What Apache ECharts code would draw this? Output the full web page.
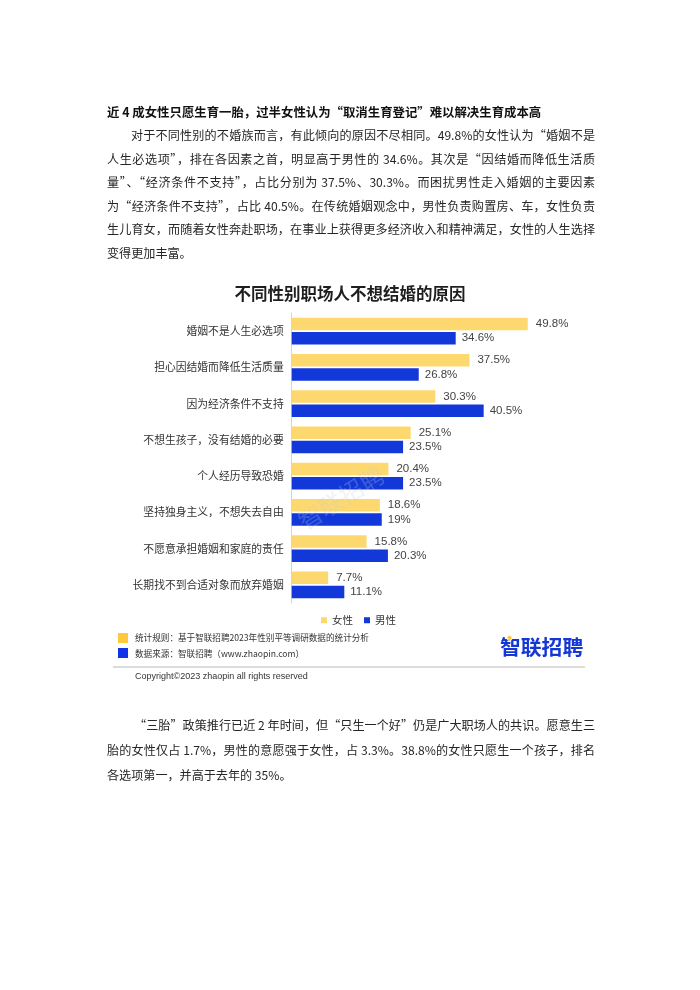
<!DOCTYPE html>
<html>
<head>
<meta charset="utf-8">
<script src="https://cdn.jsdelivr.net/npm/echarts@6/dist/echarts.min.js"></script>
<style>
  html, body { margin: 0; padding: 0; background: #fff; }
  #page { position: relative; width: 700px; height: 990px; overflow: hidden; }
  #chart { position: absolute; left: 0; top: 0; width: 700px; height: 990px; }
  .ln { position: absolute; white-space: nowrap; font-family: "Noto Sans CJK SC", sans-serif;
        font-size: 12.1px; line-height: 20px; height: 20px; color: #262626; z-index: 2; }
  .j { text-align: justify; text-align-last: justify; }
  .h { font-weight: bold; color: #111; font-size: 12.4px; }
</style>
</head>
<body>
<div id="page">
  <div id="chart"></div>
  <div id="doc"></div>
</div>
<script>
// ---------- data ----------
var categories = ['婚姻不是人生必选项', '担心因结婚而降低生活质量', '因为经济条件不支持', '不想生孩子，没有结婚的必要',
                  '个人经历导致恐婚', '坚持独身主义，不想失去自由', '不愿意承担婚姻和家庭的责任', '长期找不到合适对象而放弃婚姻'];
var femaleValues = [49.8, 37.5, 30.3, 25.1, 20.4, 18.6, 15.8, 7.7];
var maleValues = [34.6, 26.8, 40.5, 23.5, 23.5, 19, 20.3, 11.1];
var seriesNames = ['女性', '男性'];
var chartTitle = '不同性别职场人不想结婚的原因';
var noteLines = ['统计规则：基于智联招聘2023年性别平等调研数据的统计分析', '数据来源：智联招聘（www.zhaopin.com）'];
var logoText = '智联招聘';
var copyrightText = 'Copyright©2023 zhaopin all rights reserved';

var heading = '近 4 成女性只愿生育一胎，过半女性认为“取消生育登记”难以解决生育成本高';
var para1 = [
  '对于不同性别的不婚族而言，有此倾向的原因不尽相同。49.8%的女性认为“婚姻不是',
  '人生必选项”，排在各因素之首，明显高于男性的 34.6%。其次是“因结婚而降低生活质',
  '量”、“经济条件不支持”，占比分别为 37.5%、30.3%。而困扰男性走入婚姻的主要因素',
  '为“经济条件不支持”，占比 40.5%。在传统婚姻观念中，男性负责购置房、车，女性负责',
  '生儿育女，而随着女性奔赴职场，在事业上获得更多经济收入和精神满足，女性的人生选择',
  '变得更加丰富。'
];
var para2 = [
  '“三胎”政策推行已近 2 年时间，但“只生一个好”仍是广大职场人的共识。愿意生三',
  '胎的女性仅占 1.7%，男性的意愿强于女性，占 3.3%。38.8%的女性只愿生一个孩子，排名',
  '各选项第一，并高于去年的 35%。'
];

// ---------- document text ----------
var doc = document.getElementById('doc');
function addLine(text, left, centerY, width, cls) {
  var d = document.createElement('div');
  d.className = 'ln ' + (cls || '');
  d.textContent = text;
  d.style.left = left + 'px';
  d.style.top = (centerY - 10) + 'px';
  if (width) d.style.width = width + 'px';
  doc.appendChild(d);
}
addLine(heading, 107, 112, null, 'h');
para1.forEach(function (t, i) {
  var last = i === para1.length - 1;
  var first = i === 0;
  addLine(t, first ? 131 : 107, 135 + i * 23.5, last ? null : (first ? 464 : 488), last ? '' : 'j');
});
para2.forEach(function (t, i) {
  var last = i === para2.length - 1;
  var first = i === 0;
  addLine(t, first ? 134 : 107, 725 + i * 25, last ? null : (first ? 461 : 488), last ? '' : 'j');
});

// ---------- chart ----------
var chart = echarts.init(document.getElementById('chart'), null, { renderer: 'canvas' });
var cjk = '"Noto Sans CJK SC", sans-serif';
var option = {
  backgroundColor: 'transparent',
  animation: false,
  title: {
    text: chartTitle, left: 'center', top: 285, padding: 0,
    textStyle: { fontSize: 16.5, fontWeight: 'bold', color: '#1e1e1e', fontFamily: cjk }
  },
  legend: {
    data: seriesNames, left: 316, top: 610, icon: 'rect', itemWidth: 6, itemHeight: 6, itemGap: 11,
    textStyle: { fontSize: 10.5, color: '#333', fontFamily: cjk }
  },
  grid: { left: 291.7, top: 313, width: 284.4, height: 290, containLabel: false },
  xAxis: { type: 'value', min: 0, max: 60, show: false },
  yAxis: {
    type: 'category', data: categories, inverse: true,
    axisLine: { show: true, lineStyle: { color: '#d5d5d5', width: 1 } },
    axisTick: { show: false },
    axisLabel: { margin: 8, fontSize: 10.8, color: '#333', fontFamily: cjk }
  },
  series: [
    {
      name: seriesNames[0], type: 'bar', data: femaleValues, barWidth: 12.6, barGap: '12%',
      itemStyle: { color: '#FDD86E' },
      label: { show: true, position: 'right', distance: 8, formatter: '{c}%', fontSize: 11.5,
               color: '#444', fontFamily: '"Liberation Sans", Arial, sans-serif' }
    },
    {
      name: seriesNames[1], type: 'bar', data: maleValues, barWidth: 12.6, barGap: '12%',
      itemStyle: { color: '#1238DA' },
      label: { show: true, position: 'right', distance: 6, formatter: '{c}%', fontSize: 11.5,
               color: '#444', fontFamily: '"Liberation Sans", Arial, sans-serif' }
    }
  ],
  graphic: [
    { type: 'text', left: 294, top: 462, rotation: 0.56, silent: true, z: 100,
      style: { text: '智联招聘', fontSize: 24, fontFamily: cjk, fill: 'rgba(195,202,215,0.25)' } },
    { type: 'rect', shape: { x: 118, y: 633, width: 10, height: 10 }, style: { fill: '#FFC93C' } },
    { type: 'rect', shape: { x: 118, y: 648, width: 10, height: 10 }, style: { fill: '#1033E6' } },
    { type: 'text', x: 135, y: 638, style: { text: noteLines[0], fontSize: 8.6, fill: '#333', fontFamily: cjk, verticalAlign: 'middle' } },
    { type: 'text', x: 135, y: 654, style: { text: noteLines[1], fontSize: 8.6, fill: '#333', fontFamily: cjk, verticalAlign: 'middle' } },
    { type: 'text', x: 500, y: 647, style: { text: logoText, fontSize: 20.8, fontWeight: 'bold', fill: '#1537D5', fontFamily: cjk, verticalAlign: 'middle' } },
    { type: 'circle', shape: { cx: 509.5, cy: 638, r: 2.6 }, style: { fill: '#FFC83A', stroke: '#fff', lineWidth: 0.8 }, z: 10 },
    { type: 'line', shape: { x1: 113, y1: 667, x2: 585, y2: 667 }, style: { stroke: '#b8b8b8', lineWidth: 1 } },
    { type: 'text', x: 135, y: 677, style: { text: copyrightText, fontSize: 9, fill: '#333', fontFamily: '"Liberation Sans", Arial, sans-serif', verticalAlign: 'middle' } }
  ]
};
chart.setOption(option);
</script>
</body>
</html>
